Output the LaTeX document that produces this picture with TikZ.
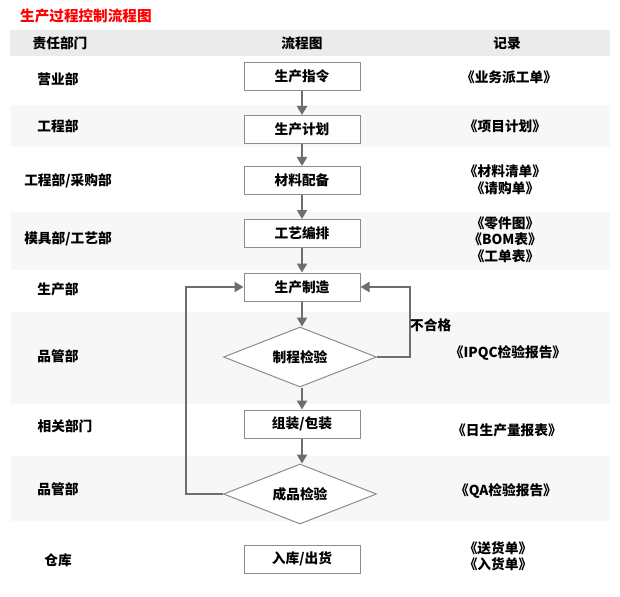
\documentclass[tikz,border=0pt]{standalone}
\usepackage{fontspec}
\setmainfont{Noto Sans CJK SC}
\usetikzlibrary{shapes.geometric,arrows.meta}
\definecolor{boxgray}{HTML}{8C8C8C}
\definecolor{arrowgray}{HTML}{6E6E6E}
\definecolor{headgray}{HTML}{EBEBEB}
\definecolor{bandgray}{HTML}{F7F7F7}
\definecolor{titlered}{HTML}{FF0000}
\begin{document}
\begin{tikzpicture}[x=1pt,y=-1pt,
  txt/.style={font=\fontsize{13.7}{16.5}\selectfont\bfseries, inner sep=0pt, text=black, align=center},
  stepbox/.style={txt, draw=boxgray, line width=1pt, fill=white, minimum width=116pt, minimum height=28pt},
  decision/.style={txt, diamond, aspect=2.55, draw=boxgray, line width=1pt, fill=white, minimum width=153pt, minimum height=60pt},
  flow/.style={draw=arrowgray, line width=2pt, -{Triangle[width=10pt,length=9pt]}}
]
\useasboundingbox (0,0) rectangle (620,596);
\fill[white] (0,0) rectangle (620,596);
\fill[headgray] (10,30) rectangle (610,56);
\fill[bandgray] (11,105) rectangle (610,147);
\fill[bandgray] (11,212) rectangle (610,270);
\fill[bandgray] (11,312) rectangle (610,404);
\fill[bandgray] (11,456) rectangle (610,521);

\node[txt, font=\fontsize{14.6}{16.5}\selectfont\bfseries, text=titlered, anchor=west] (title) at (20,16) {生产过程控制流程图};

\node[txt] (h1) at (60,43) {责任部门};
\node[txt] (h2) at (302,43) {流程图};
\node[txt] (h3) at (507,43) {记录};

\node[stepbox] (b1) at (302,76.5) {生产指令};
\node[stepbox] (b2) at (302,129.5) {生产计划};
\node[stepbox] (b3) at (302,180.5) {材料配备};
\node[stepbox] (b4) at (302,233.5) {工艺编排};
\node[stepbox] (b5) at (302,287) {生产制造};
\node[decision] (d1) at (300,357) {制程检验};
\node[stepbox] (b6) at (302,424) {组装/包装};
\node[decision] (d2) at (300,494) {成品检验};
\node[stepbox] (b7) at (302,559) {入库/出货};

\draw[flow] (b1) -- (b2);
\draw[flow] (b2) -- (b3);
\draw[flow] (b3) -- (b4);
\draw[flow] (b4) -- (b5);
\draw[flow] (b5.south) -- (b5.south |- d1.north);
\draw[flow] (b6.north |- d1.south) -- (b6.north);
\draw[flow] (b6.south) -- (b6.south |- d2.north);
\draw[flow] (d1.east) -- ++(33,0) |- (b5.east);
\draw[flow] (d2.west) -- ++(-37,0) |- (b5.west);
\node[txt, anchor=west] (ng) at (410,325) {不合格};

\node[txt] (l1) at (58,79) {营业部};
\node[txt] (l2) at (58,126) {工程部};
\node[txt] (l3) at (68,181) {工程部/采购部};
\node[txt] (l4) at (68,239) {模具部/工艺部};
\node[txt] (l5) at (58,289) {生产部};
\node[txt] (l6) at (58,356) {品管部};
\node[txt] (l7) at (65,426) {相关部门};
\node[txt] (l8) at (58,489) {品管部};
\node[txt] (l9) at (58,560) {仓库};

\node[txt] (r1) at (509,77) {《业务派工单》};
\node[txt] (r2) at (505,126) {《项目计划》};
\node[txt] (r3) at (505,180) {《材料清单》\\《请购单》};
\node[txt] (r4) at (505,239.5) {《零件图》\\《BOM表》\\《工单表》};
\node[txt] (r5) at (508,353) {《IPQC检验报告》};
\node[txt] (r6) at (507,430) {《日生产量报表》};
\node[txt] (r7) at (506,491) {《QA检验报告》};
\node[txt] (r8) at (498,556) {《送货单》\\《入货单》};
\end{tikzpicture}
\end{document}
